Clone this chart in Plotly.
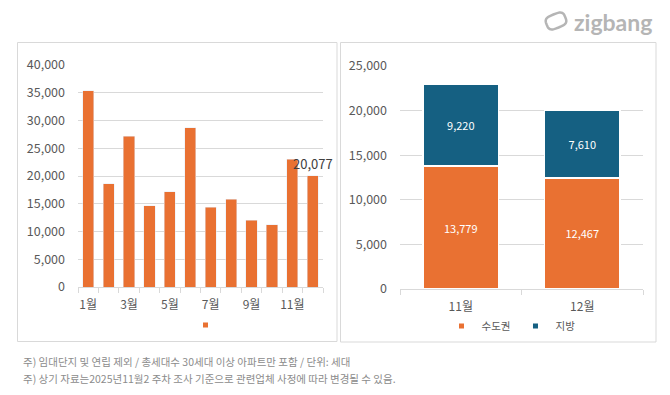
import math
import plotly.graph_objects as go

W, H = 670, 395

# ---------------- data ----------------
months = ["1월", "2월", "3월", "4월", "5월", "6월", "7월", "8월", "9월", "10월", "11월", "12월"]
monthly_supply = [35400, 18600, 27150, 14600, 17200, 28650, 14400, 15800, 12050, 11250, 22999, 20077]
left_tick_text = ["1월", "", "3월", "", "5월", "", "7월", "", "9월", "", "11월", ""]
left_labels = [""] * 11 + ["20,077"]

cmp_months = ["11월", "12월"]
capital_area = [13779, 12467]
regional_area = [9220, 7610]
series_names = ["수도권", "지방"]

footnotes = [
    "주) 임대단지 및 연립 제외 / 총세대수 30세대 이상 아파트만 포함 / 단위: 세대",
    "주) 상기 자료는2025년11월2 주차 조사 기준으로 관련업체 사정에 따라 변경될 수 있음.",
]

ORANGE = "#E97132"
BLUE = "#156082"
GRID = "#D9D9D9"
TXT = "#595959"
FONT = "Noto Sans CJK KR"


def px(x):
    return x / W


def py(y):
    return 1 - y / H


fig = go.Figure()

# left chart
fig.add_trace(go.Bar(
    x=months, y=monthly_supply, marker_color=ORANGE, width=0.55,
    text=left_labels, textposition="outside", cliponaxis=False,
    constraintext="none",
    textfont=dict(color="#404040", size=13, family=FONT),
    showlegend=False, xaxis="x", yaxis="y",
))
fig.add_trace(go.Scatter(
    x=[None], y=[None], mode="markers", name="",
    marker=dict(symbol="square", size=5, color=ORANGE),
    xaxis="x", yaxis="y", legend="legend",
))

# right chart
fig.add_trace(go.Bar(
    x=cmp_months, y=capital_area, marker_color=ORANGE, width=0.62,
    marker_line=dict(color="white", width=1.5),
    text=[f"{v:,}" for v in capital_area], textposition="inside",
    insidetextanchor="middle", constraintext="none",
    textfont=dict(color="white", size=11, family=FONT),
    showlegend=False, xaxis="x2", yaxis="y2",
))
fig.add_trace(go.Bar(
    x=cmp_months, y=regional_area, marker_color=BLUE, width=0.62,
    marker_line=dict(color="white", width=1.5),
    text=[f"{v:,}" for v in regional_area], textposition="inside",
    insidetextanchor="middle", constraintext="none",
    textfont=dict(color="white", size=11, family=FONT),
    showlegend=False, xaxis="x2", yaxis="y2",
))
for nm, col in zip(series_names, [ORANGE, BLUE]):
    fig.add_trace(go.Scatter(
        x=[None], y=[None], mode="markers", name=nm,
        marker=dict(symbol="square", size=5, color=col),
        xaxis="x2", yaxis="y2", legend="legend2",
    ))

axis_common_x = dict(
    type="category", tickson="boundaries", ticks="outside", ticklen=5,
    tickcolor=GRID, showline=True, linecolor=GRID, linewidth=1,
    showgrid=False, zeroline=False, tickangle=0, automargin=False,
    ticklabelstandoff=7,
    tickfont=dict(size=12, color=TXT, family=FONT), fixedrange=True,
)
axis_common_y = dict(
    tickformat=",", showgrid=True, gridcolor=GRID, gridwidth=1,
    zeroline=False, showline=False, ticks="", ticklabelstandoff=12,
    automargin=False,
    tickfont=dict(size=12.5, color=TXT, family=FONT), fixedrange=True,
)

shapes = [
    dict(type="rect", xref="paper", yref="paper", x0=px(17.5), x1=px(337),
         y0=py(341.5), y1=py(42.5), line=dict(color=GRID, width=1)),
    dict(type="rect", xref="paper", yref="paper", x0=px(340.5), x1=px(656),
         y0=py(342), y1=py(42.5), line=dict(color=GRID, width=1)),
]

# logo icon (decorative)
cx, cy, a, b, rot = 556, 21, 10, 7, math.radians(-22)
pts = []
for i in range(41):
    t = 2 * math.pi * i / 40
    c, s = math.cos(t), math.sin(t)
    ex = a * math.copysign(abs(c) ** 0.6, c)
    ey = b * math.copysign(abs(s) ** 0.6, s)
    X = cx + ex * math.cos(rot) - ey * math.sin(rot)
    Y = cy + ex * math.sin(rot) + ey * math.cos(rot)
    pts.append((px(X), py(Y)))
path = "M " + " L ".join(f"{x:.5f},{y:.5f}" for x, y in pts) + " Z"
shapes.append(dict(type="path", xref="paper", yref="paper", path=path,
                   line=dict(color="#B5B5B5", width=2.5)))

annotations = [
    dict(text="zigbang", xref="paper", yref="paper", x=px(572), y=py(22),
         xanchor="left", yanchor="middle", showarrow=False,
         font=dict(family="Lato", size=23, color="#B5B5B5", weight=700)),
]
for i, t in enumerate(footnotes):
    annotations.append(dict(
        text=t, xref="paper", yref="paper", x=px(21), y=py(361 + 17 * i),
        xanchor="left", yanchor="middle", showarrow=False,
        font=dict(family=FONT, size=10.5, color="#8C8C8C")))

fig.update_layout(
    width=W, height=H, margin=dict(l=0, r=0, t=0, b=0, autoexpand=False),
    paper_bgcolor="white", plot_bgcolor="white",
    font=dict(family=FONT, color=TXT),
    barmode="stack",
    xaxis=dict(domain=[px(78), px(323)], anchor="y", tickvals=months,
               ticktext=left_tick_text, **axis_common_x),
    yaxis=dict(domain=[py(287), py(65)], anchor="x", range=[0, 40000],
               dtick=5000, **axis_common_y),
    xaxis2=dict(domain=[px(400), px(643)], anchor="y2", **axis_common_x),
    yaxis2=dict(domain=[py(289), py(66)], anchor="x2", range=[0, 25000],
                dtick=5000, **axis_common_y),
    legend=dict(orientation="h", x=px(208), y=py(325), xanchor="center",
                yanchor="middle", font=dict(size=10, color=TXT, family=FONT),
                bgcolor="rgba(0,0,0,0)"),
    legend2=dict(orientation="h", x=px(511), y=py(326), xanchor="center",
                 yanchor="middle", font=dict(size=10.5, color=TXT, family=FONT),
                 bgcolor="rgba(0,0,0,0)"),
    shapes=shapes, annotations=annotations,
)

fig.write_html(
    "out.html",
    config={"displayModeBar": False, "staticPlot": True},
    post_script="document.body.style.margin='0';document.body.style.overflow='hidden';",
)
